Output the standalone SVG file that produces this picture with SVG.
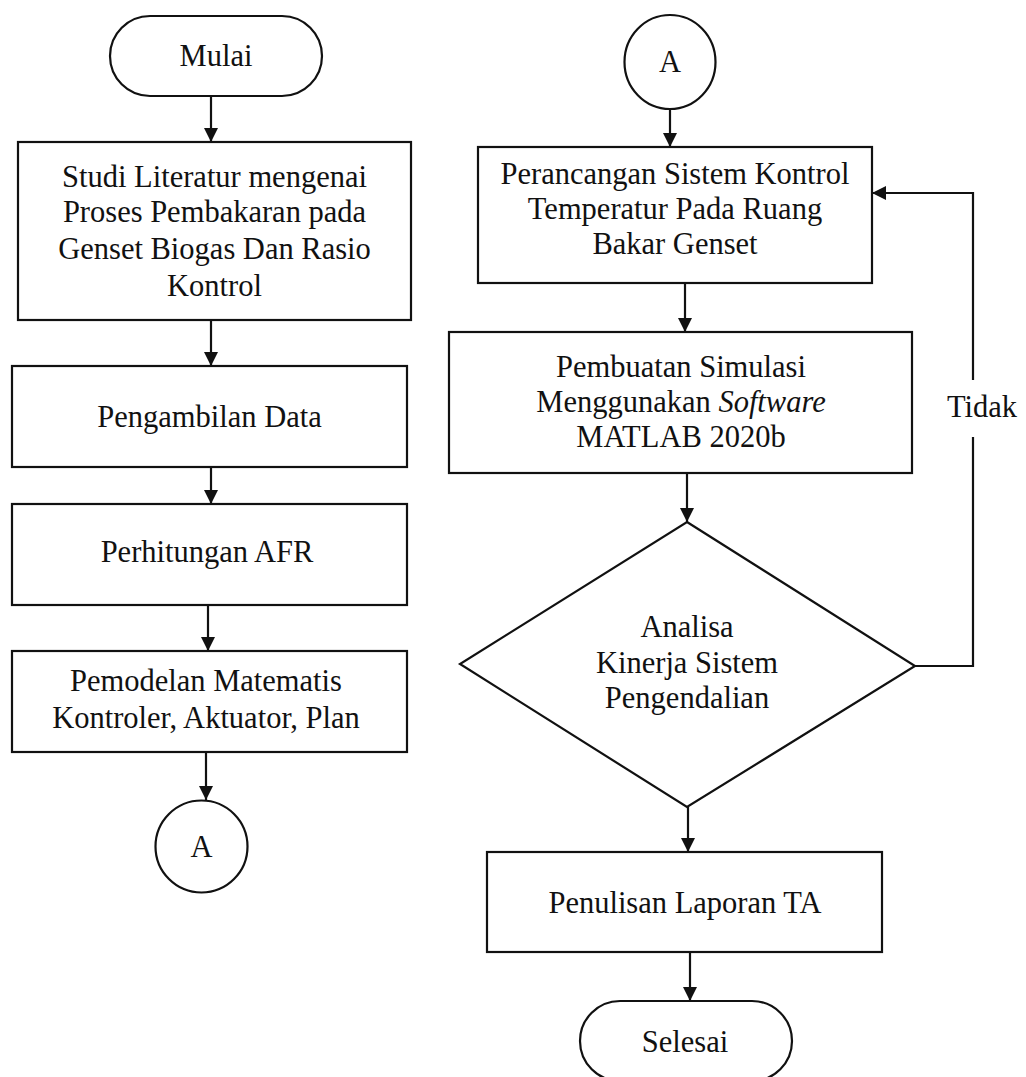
<svg xmlns="http://www.w3.org/2000/svg" width="1026" height="1077" viewBox="0 0 1026 1077">
<style>
.s{fill:#fff;stroke:#111;stroke-width:2.2}
.c{fill:none;stroke:#111;stroke-width:2.2}
text{font-family:"Liberation Serif","Times New Roman",serif;font-size:30.5px;fill:#111;text-anchor:middle}
</style>
<defs>
<marker id="ah" markerUnits="userSpaceOnUse" markerWidth="15" markerHeight="14" refX="14" refY="7" orient="auto">
<path d="M0,0 L14,7 L0,14 z" fill="#111"/>
</marker>
</defs>
<rect width="1026" height="1077" fill="#fff"/>
<g id="connectors">
<line class="c" x1="211" y1="96" x2="211" y2="142" marker-end="url(#ah)"/>
<line class="c" x1="211" y1="320" x2="211" y2="366" marker-end="url(#ah)"/>
<line class="c" x1="211" y1="460" x2="211" y2="504" marker-end="url(#ah)"/>
<line class="c" x1="208" y1="605" x2="208" y2="651" marker-end="url(#ah)"/>
<line class="c" x1="206" y1="752" x2="206" y2="800" marker-end="url(#ah)"/>
<line class="c" x1="670" y1="109" x2="670" y2="147" marker-end="url(#ah)"/>
<line class="c" x1="685" y1="283" x2="685" y2="332" marker-end="url(#ah)"/>
<line class="c" x1="687" y1="473" x2="687" y2="522" marker-end="url(#ah)"/>
<line class="c" x1="688" y1="807" x2="688" y2="852" marker-end="url(#ah)"/>
<line class="c" x1="690" y1="952" x2="690" y2="1001" marker-end="url(#ah)"/>
<polyline class="c" points="915,666 973,666 973,437"/>
<polyline class="c" points="973,380 973,193 872,193" marker-end="url(#ah)"/>
<text x="982" y="417">Tidak</text>
</g>
<g id="mulai">
<rect class="s" x="110" y="16" width="212" height="80" rx="40" ry="40"/>
<text x="216" y="66">Mulai</text>
</g>
<g id="studi">
<rect class="s" x="18" y="142" width="393" height="178"/>
<text x="214.5" y="187">Studi Literatur mengenai</text>
<text x="214.5" y="222">Proses Pembakaran pada</text>
<text x="214.5" y="259">Genset Biogas Dan Rasio</text>
<text x="214.5" y="296">Kontrol</text>
</g>
<g id="pengambilan">
<rect class="s" x="12" y="366" width="395" height="101"/>
<text x="209.5" y="427">Pengambilan Data</text>
</g>
<g id="perhitungan">
<rect class="s" x="12" y="504" width="395" height="101"/>
<text x="207" y="562">Perhitungan AFR</text>
</g>
<g id="pemodelan">
<rect class="s" x="12" y="651" width="395" height="101"/>
<text x="206" y="691">Pemodelan Matematis</text>
<text x="206" y="728">Kontroler, Aktuator, Plan</text>
</g>
<g id="a-out">
<circle class="s" cx="201.5" cy="846.5" r="46"/>
<text x="201.5" y="857">A</text>
</g>
<g id="a-in">
<ellipse class="s" cx="670" cy="62" rx="45.5" ry="47"/>
<text x="670" y="72">A</text>
</g>
<g id="perancangan">
<rect class="s" x="478" y="147" width="394" height="136"/>
<text x="675" y="184">Perancangan Sistem Kontrol</text>
<text x="675" y="219">Temperatur Pada Ruang</text>
<text x="675" y="254">Bakar Genset</text>
</g>
<g id="pembuatan">
<rect class="s" x="449" y="332" width="463" height="141"/>
<text x="681" y="377">Pembuatan Simulasi</text>
<text x="681" y="412">Menggunakan <tspan font-style="italic">Software</tspan></text>
<text x="681" y="447">MATLAB 2020b</text>
</g>
<g id="analisa">
<polygon class="s" points="687,522 915,666 687,807 460,664"/>
<text x="687" y="637">Analisa</text>
<text x="687" y="673">Kinerja Sistem</text>
<text x="687" y="708">Pengendalian</text>
</g>
<g id="penulisan">
<rect class="s" x="487" y="852" width="395" height="100"/>
<text x="685" y="913">Penulisan Laporan TA</text>
</g>
<g id="selesai">
<rect class="s" x="580" y="1001" width="212" height="80" rx="40" ry="40"/>
<text x="685" y="1052">Selesai</text>
</g>
</svg>
